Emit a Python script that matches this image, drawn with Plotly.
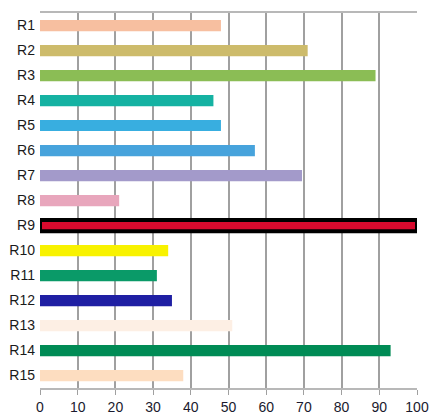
import plotly.graph_objects as go

categories = ["R1", "R2", "R3", "R4", "R5", "R6", "R7", "R8", "R9", "R10",
              "R11", "R12", "R13", "R14", "R15"]
values = [48, 71, 89, 46, 48, 57, 69.5, 21, 100, 34, 31, 35, 51, 93, 38]
colors = ["#F7BFA0", "#CDBB6B", "#8BBD55", "#15B2A2", "#38AEE0", "#47A3DC",
          "#A39ACA", "#E8A6BC", "#D90A2E", "#F8F200", "#0A9A68", "#1F1FA3",
          "#FDEFE4", "#008B55", "#FDDDC0"]
line_widths = [0, 0, 0, 0, 0, 0, 0, 0, 4, 0, 0, 0, 0, 0, 0]
tick_vals = [0, 10, 20, 30, 40, 50, 60, 70, 80, 90, 100]

fig = go.Figure(go.Bar(
    x=values, y=categories, orientation="h",
    marker=dict(color=colors, line=dict(color="#000000", width=line_widths)),
    width=0.45,
))

fig.update_layout(
    width=430, height=417,
    margin=dict(l=40, r=13, t=13, b=29, autoexpand=False),
    paper_bgcolor="white", plot_bgcolor="white",
    showlegend=False,
    font=dict(family="Liberation Sans, Arial, sans-serif", size=13, color="#1a1a2e"),
)
fig.update_xaxes(
    range=[0, 100], tickvals=tick_vals, automargin=False,
    ticklabeloverflow="allow",
    showgrid=True, gridcolor="#a0a0a0", gridwidth=1.5,
    showline=True, linecolor="#b8b8b8", linewidth=2, mirror=True,
    ticks="outside", ticklen=5, tickcolor="#a0a0a0",
    zeroline=False, tickfont=dict(size=14),
)
fig.update_yaxes(
    categoryorder="array", categoryarray=categories, autorange="reversed",
    automargin=False,
    showgrid=False, showline=False, ticks="", ticklabelstandoff=4,
    tickfont=dict(size=14, color="#1a1a1a"),
)

fig.write_html(
    "out.html",
    config={"displayModeBar": False},
    post_script="document.body.style.margin='0';document.body.style.overflow='hidden';",
)
